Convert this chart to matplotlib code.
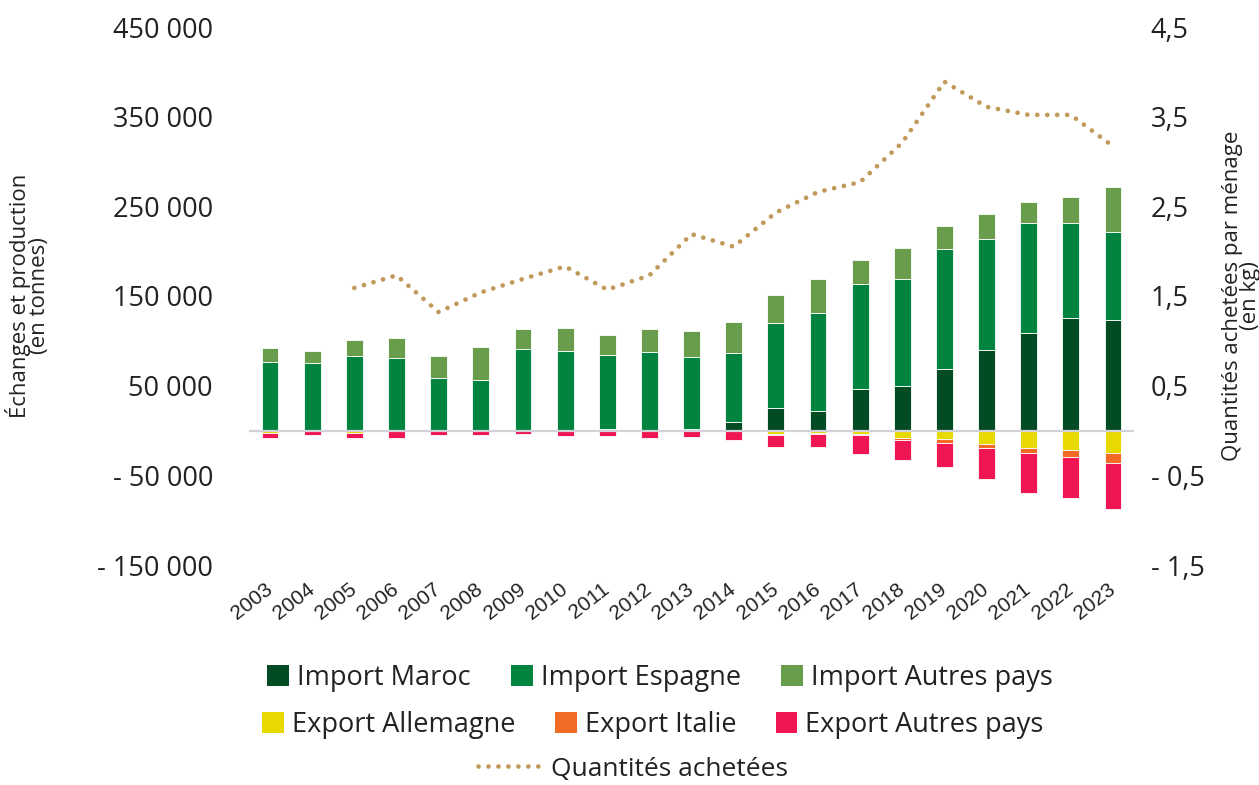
import numpy as np
import matplotlib
matplotlib.use("Agg")
import matplotlib.pyplot as plt
from matplotlib.patches import Patch
from matplotlib.lines import Line2D
from matplotlib.ticker import FuncFormatter, FixedLocator

plt.rcParams['font.family'] = ['Open Sans', 'DejaVu Sans']

## Données (milliers de tonnes / kg par ménage)
annees = [str(a) for a in range(2003, 2024)]
import_maroc = [0.5, 0.3, 0.5, 1, 0.5, 0.5, 0.5, 0.5, 1.5, 0.5, 1.5, 10, 25, 21.5, 46, 50, 69, 90, 108.5, 125, 123]
import_espagne = [75.5, 74.7, 82.5, 80, 58.5, 55.5, 90.8, 88.5, 83, 87.5, 80.5, 76, 95, 109.5, 117.8, 119, 133, 124, 122.5, 106.8, 98.7]
import_autres = [16, 13.4, 17.7, 22.6, 23.8, 36.9, 22.3, 25, 22.4, 25, 29, 34.7, 31, 38, 26, 34, 26, 27.5, 24, 28.2, 50.3]
export_allemagne = [2.5, 0.5, 2.5, 1, 1, 0.5, 0.5, 0.5, 1, 0.5, 0.5, 0.5, 4, 2.7, 4, 8, 9.3, 14.5, 19, 21.2, 25.3]
export_italie = [0, 0, 0, 0, 0, 0, 0, 0, 0, 0.5, 0, 0.5, 1, 1, 0.8, 2.2, 4.5, 5.2, 6.3, 7.8, 11.1]
export_autres = [6, 4, 5.5, 7.4, 4.5, 4, 3.5, 5.5, 5, 7, 7, 9.5, 13, 15, 21.5, 23, 26.4, 34.2, 44.2, 46.5, 51.3]
# quantités achetées, à partir de 2005
annees_qte = annees[2:]
quantites = [1.59, 1.73, 1.32, 1.54, 1.69, 1.83, 1.57, 1.73, 2.19, 2.05, 2.43, 2.66, 2.77, 3.21, 3.89, 3.61, 3.52, 3.52, 3.17]

couleurs = {
    "Import Maroc": "#024b23",
    "Import Espagne": "#00843f",
    "Import Autres pays": "#679d4b",
    "Export Allemagne": "#e8d900",
    "Export Italie": "#f26b24",
    "Export Autres pays": "#ef1653",
}
couleur_ligne = "#c19a5b"
texte = "#222222"

x = np.arange(len(annees))
im = np.array(import_maroc) * 1000
ie = np.array(import_espagne) * 1000
ia = np.array(import_autres) * 1000
ea = np.array(export_allemagne) * 1000
ei = np.array(export_italie) * 1000
eo = np.array(export_autres) * 1000

fig = plt.figure(figsize=(12.59, 7.85), dpi=100)
ax = fig.add_axes([249 / 1259, 1 - 565 / 785, 885 / 1259, 538 / 785])

w = 0.4
kw = dict(width=w, edgecolor="white", linewidth=0.6)
ax.bar(x, im, color=couleurs["Import Maroc"], **kw)
ax.bar(x, ie, bottom=im, color=couleurs["Import Espagne"], **kw)
ax.bar(x, ia, bottom=im + ie, color=couleurs["Import Autres pays"], **kw)
ax.bar(x, -ea, color=couleurs["Export Allemagne"], **kw)
ax.bar(x, -ei, bottom=-ea, color=couleurs["Export Italie"], **kw)
ax.bar(x, -eo, bottom=-ea - ei, color=couleurs["Export Autres pays"], **kw)
ax.axhline(0, color="#d2d2d8", lw=1.6, zorder=5)

ax.set_xlim(-0.5, len(annees) - 0.5)
ax.set_ylim(-150000, 450000)
ax.yaxis.set_major_locator(FixedLocator(np.arange(-150000, 450001, 100000)))

def fmt_left(v, pos):
    s = f"{abs(v):,.0f}".replace(",", " ")
    return ("- " + s) if v < 0 else s

ax.yaxis.set_major_formatter(FuncFormatter(fmt_left))
ax.set_xticks(x)
ax.set_xticklabels(annees, rotation=38, ha="right", va="center", rotation_mode="anchor",
                   fontsize=15, family=["Liberation Sans", "DejaVu Sans"], color=texte)
ax.tick_params(axis="x", length=0, pad=16)
ax.tick_params(axis="y", length=0, pad=26, labelsize=19.5, labelcolor=texte)
for s in ax.spines.values():
    s.set_visible(False)
ax.set_ylabel("Échanges et production\n(en tonnes)", fontsize=16, color=texte,
              linespacing=0.85)
ax.yaxis.set_label_coords(-0.225, 0.5)

ax2 = ax.twinx()
ax2.set_ylim(-1.5, 4.5)
ax2.yaxis.set_major_locator(FixedLocator(np.arange(-1.5, 4.51, 1.0)))

def fmt_right(v, pos):
    s = f"{abs(v):.1f}".replace(".", ",")
    return ("- " + s) if v < -1e-9 else s

ax2.yaxis.set_major_formatter(FuncFormatter(fmt_right))
ax2.tick_params(axis="y", length=0, pad=12, labelsize=19.5, labelcolor=texte)
for s in ax2.spines.values():
    s.set_visible(False)
ax2.set_ylabel("Quantités achetées par ménage\n(en kg)", fontsize=16, color=texte,
               linespacing=0.85)
ax2.yaxis.set_label_coords(1.099, 0.5)
ax2.plot(x[2:], quantites, color=couleur_ligne, lw=3.4, linestyle=(0, (0.01, 2.1)),
         dash_capstyle="round")

## Légende sur trois lignes
noms1 = ["Import Maroc", "Import Espagne", "Import Autres pays"]
noms2 = ["Export Allemagne", "Export Italie", "Export Autres pays"]
leg_kw = dict(frameon=False, handlelength=0.8, handleheight=0.8, handletextpad=0.3,
              fontsize=19.5, borderaxespad=0, labelcolor=texte)
h1 = [Patch(facecolor=couleurs[n]) for n in noms1]
h2 = [Patch(facecolor=couleurs[n]) for n in noms2]
fig.legend(h1, noms1, loc="center", bbox_to_anchor=(660 / 1259, 1 - 678 / 785), ncol=3,
           columnspacing=1.5, **leg_kw)
fig.legend(h2, noms2, loc="center", bbox_to_anchor=(653 / 1259, 1 - 725 / 785), ncol=3,
           columnspacing=1.45, **leg_kw)
h3 = [Line2D([0], [0], color=couleur_ligne, lw=3.4, linestyle=(0, (0.01, 2.1)),
             dash_capstyle="round")]
fig.legend(h3, ["Quantités achetées"], loc="center", bbox_to_anchor=(633 / 1259, 1 - 769 / 785),
           frameon=False, handlelength=2.5, handletextpad=0.3, fontsize=19,
           borderaxespad=0, labelcolor=texte)

fig.savefig("out.png", dpi=100)
